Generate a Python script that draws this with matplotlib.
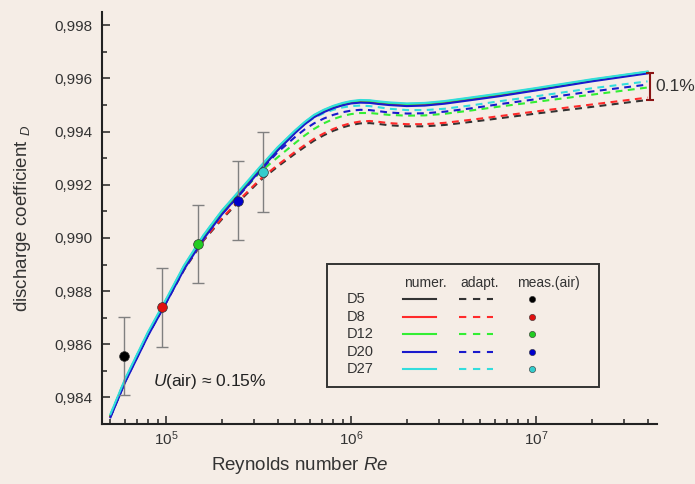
import numpy as np
import matplotlib.pyplot as plt
from matplotlib.patches import Rectangle
from matplotlib.ticker import FuncFormatter, MultipleLocator, NullFormatter, LogLocator

plt.rcParams['font.family'] = ['Liberation Sans', 'DejaVu Sans']
plt.rcParams['mathtext.fontset'] = 'custom'
plt.rcParams['mathtext.rm'] = 'Liberation Sans'
plt.rcParams['mathtext.it'] = 'Liberation Sans:italic'

# %% data
re = np.array([5.0e4, 6.0e4, 8.0e4, 1.0e5, 1.25e5, 1.6e5, 2.0e5, 2.5e5, 3.2e5, 4.0e5,
               5.0e5, 5.6e5, 6.3e5, 7.1e5, 8.0e5, 9.0e5, 1.0e6, 1.12e6, 1.26e6, 1.4e6,
               1.6e6, 2.0e6, 2.5e6, 3.2e6, 4.5e6, 6.3e6, 1.0e7, 2.0e7, 4.0e7])

# numerical solution (solid)
numer_d5  = [0.98329, 0.98462, 0.98640, 0.98762, 0.98889, 0.99005, 0.99095, 0.99172, 0.99258, 0.99334,
             0.99400, 0.99431, 0.99458, 0.99477, 0.99492, 0.99503, 0.99510, 0.99514, 0.99513, 0.99509,
             0.99505, 0.99501, 0.99503, 0.99510, 0.99524, 0.99538, 0.99559, 0.99592, 0.99622]
numer_d8  = [0.98330, 0.98463, 0.98641, 0.98763, 0.98890, 0.99006, 0.99096, 0.99173, 0.99259, 0.99335,
             0.99401, 0.99432, 0.99459, 0.99478, 0.99493, 0.99504, 0.99511, 0.99515, 0.99514, 0.99510,
             0.99506, 0.99502, 0.99504, 0.99511, 0.99525, 0.99539, 0.99560, 0.99593, 0.99623]
numer_d12 = [0.98333, 0.98466, 0.98644, 0.98766, 0.98893, 0.99009, 0.99099, 0.99176, 0.99262, 0.99338,
             0.99404, 0.99434, 0.99461, 0.99480, 0.99495, 0.99506, 0.99513, 0.99517, 0.99516, 0.99512,
             0.99508, 0.99504, 0.99506, 0.99513, 0.99527, 0.99541, 0.99562, 0.99595, 0.99625]
numer_d20 = [0.98325, 0.98457, 0.98634, 0.98756, 0.98882, 0.98998, 0.99088, 0.99165, 0.99252, 0.99329,
             0.99396, 0.99427, 0.99454, 0.99473, 0.99488, 0.99499, 0.99506, 0.99509, 0.99508, 0.99504,
             0.99500, 0.99496, 0.99498, 0.99505, 0.99519, 0.99533, 0.99555, 0.99589, 0.99619]
numer_d27 = [0.98337, 0.98470, 0.98648, 0.98770, 0.98897, 0.99013, 0.99103, 0.99180, 0.99266, 0.99341,
             0.99406, 0.99436, 0.99463, 0.99482, 0.99497, 0.99508, 0.99515, 0.99519, 0.99518, 0.99514,
             0.99510, 0.99506, 0.99508, 0.99515, 0.99529, 0.99543, 0.99564, 0.99597, 0.99626]

# adapted model (dashed)
adapt_d5  = [0.98329, 0.98462, 0.98638, 0.98758, 0.98880, 0.98992, 0.99070, 0.99140, 0.99214, 0.99268,
             0.99318, 0.99342, 0.99366, 0.99386, 0.99403, 0.99416, 0.99425, 0.99431, 0.99432, 0.99429,
             0.99424, 0.99420, 0.99420, 0.99425, 0.99437, 0.99450, 0.99468, 0.99493, 0.99519]
adapt_d8  = [0.98330, 0.98463, 0.98639, 0.98760, 0.98883, 0.98995, 0.99074, 0.99145, 0.99219, 0.99274,
             0.99325, 0.99349, 0.99373, 0.99393, 0.99410, 0.99423, 0.99432, 0.99438, 0.99440, 0.99437,
             0.99432, 0.99428, 0.99428, 0.99433, 0.99445, 0.99458, 0.99476, 0.99502, 0.99528]
adapt_d12 = [0.98330, 0.98463, 0.98641, 0.98763, 0.98890, 0.99005, 0.99093, 0.99163, 0.99246, 0.99303,
             0.99358, 0.99385, 0.99410, 0.99431, 0.99447, 0.99459, 0.99466, 0.99470, 0.99470, 0.99467,
             0.99463, 0.99460, 0.99461, 0.99467, 0.99480, 0.99494, 0.99512, 0.99539, 0.99566]
adapt_d20 = [0.98328, 0.98460, 0.98637, 0.98758, 0.98885, 0.99001, 0.99090, 0.99163, 0.99250, 0.99322,
             0.99381, 0.99408, 0.99431, 0.99449, 0.99463, 0.99473, 0.99479, 0.99482, 0.99481, 0.99477,
             0.99472, 0.99468, 0.99469, 0.99475, 0.99488, 0.99503, 0.99522, 0.99551, 0.99577]
adapt_d27 = [0.98335, 0.98468, 0.98645, 0.98767, 0.98894, 0.99012, 0.99101, 0.99175, 0.99262, 0.99337,
             0.99400, 0.99428, 0.99452, 0.99469, 0.99482, 0.99491, 0.99496, 0.99498, 0.99496, 0.99492,
             0.99486, 0.99481, 0.99481, 0.99486, 0.99499, 0.99514, 0.99533, 0.99563, 0.99589]

# measurements in air, with uncertainty
meas_re  = [5.9e4, 9.5e4, 1.48e5, 2.44e5, 3.33e5]
meas_cd  = [0.98556, 0.98739, 0.98977, 0.99140, 0.99248]
meas_err = [0.00148, 0.00148, 0.00148, 0.00149, 0.00149]

names       = ['D5', 'D8', 'D12', 'D20', 'D27']
line_colors = ['#333333', '#ff2a2a', '#33ee33', '#1a1acc', '#33dddd']
dot_colors  = ['#000000', '#e01010', '#22cc22', '#0000cc', '#33cccc']
numer_all   = [numer_d5, numer_d8, numer_d12, numer_d20, numer_d27]
adapt_all   = [adapt_d5, adapt_d8, adapt_d12, adapt_d20, adapt_d27]

bg = '#f5ede6'
dash = (0, (3.3, 2.6))

# %% figure
fig = plt.figure(figsize=(6.95, 4.84), dpi=100, facecolor=bg)
ax = fig.add_axes([102/695, 1 - 424/484, 555/695, 412/484])
ax.set_facecolor(bg)

for col, cd in zip(line_colors, adapt_all):
    ax.plot(re, cd, color=col, lw=1.5, ls=dash, zorder=2)
for col, cd in zip(line_colors, numer_all):
    ax.plot(re, cd, color=col, lw=1.5, zorder=3)

for x, y, e, col in zip(meas_re, meas_cd, meas_err, dot_colors):
    ax.errorbar(x, y, yerr=e, fmt='none', ecolor='#808080', elinewidth=1,
                capsize=4, capthick=1, zorder=4)
    ax.plot(x, y, 'o', ms=7, mfc=col, mec='#333333', mew=0.5, zorder=5)

# 0.1 % bracket at the right end
top, bot = numer_d5[-1], adapt_d5[-1]
ax.errorbar(4.1e7, (top + bot) / 2, yerr=(top - bot) / 2, fmt='none',
            ecolor='#8b1515', elinewidth=1.5, capsize=3, capthick=1.5, clip_on=False, zorder=6)
ax.annotate('0.1%', xy=(4.1e7, (top + bot) / 2), xytext=(4, 0), textcoords='offset points',
            va='center', ha='left', fontsize=12.5, color='#333333', annotation_clip=False)

ax.text(0.0914, 0.1027, '$U$(air) \u2248 0.15%', transform=ax.transAxes,
        fontsize=12.5, va='center', ha='left', color='#222222')

# axes styling
ax.set_xscale('log')
ax.set_xlim(4.5e4, 4.5e7)
ax.set_ylim(0.983, 0.9985)
ax.yaxis.set_major_locator(MultipleLocator(0.002))
ax.yaxis.set_minor_locator(MultipleLocator(0.001))
ax.yaxis.set_major_formatter(FuncFormatter(lambda v, p: f'{v:.3f}'.replace('.', ',')))
ax.xaxis.set_minor_locator(LogLocator(base=10, subs=np.arange(2, 10)))
ax.xaxis.set_minor_formatter(NullFormatter())

for s in ['top', 'right']:
    ax.spines[s].set_visible(False)
for s in ['left', 'bottom']:
    ax.spines[s].set_linewidth(1.5)
    ax.spines[s].set_color('#222222')

ax.tick_params(which='major', direction='in', length=6, width=1.1, color='#222222',
               labelsize=11, labelcolor='#333333')
ax.tick_params(which='minor', direction='in', length=3.5, width=1.1, color='#222222')
ax.tick_params(axis='y', which='major', pad=6.5)
ax.tick_params(axis='x', which='major', pad=4)

ax.set_xlabel('Reynolds number $Re$', fontsize=13.5, color='#333333')
ax.xaxis.set_label_coords(0.357, -0.075)
ax.set_ylabel('discharge coefficient $_D$', fontsize=13.5, color='#333333')
ax.yaxis.set_label_coords(-0.125, 0.5)

# %% hand-built legend box (figure pixel positions)
def fpx(x, y):
    return x / 695, 1 - y / 484

x0, y0 = fpx(327, 387)
x1, y1 = fpx(599, 264)
fig.add_artist(Rectangle((x0, y0), x1 - x0, y1 - y0, transform=fig.transFigure,
                         facecolor='none', edgecolor='#333333', lw=1.4))

for label, cx in [('numer.', 425), ('adapt.', 480), ('meas.(air)', 548)]:
    fig.text(*fpx(cx, 283), label, ha='center', va='center', fontsize=10, color='#333333')

row_y = [299.3, 316.7, 334.2, 351.7, 369.0]
for name, lc, dc, ry in zip(names, line_colors, dot_colors, row_y):
    fig.text(*fpx(347, ry), name, ha='left', va='center', fontsize=10.5, color='#333333')
    (ax_, ay_), (bx_, by_) = fpx(403, ry), fpx(436, ry)
    fig.add_artist(plt.Line2D([ax_, bx_], [ay_, by_], transform=fig.transFigure, color=lc, lw=1.5))
    (ax_, ay_), (bx_, by_) = fpx(459, ry), fpx(493, ry)
    fig.add_artist(plt.Line2D([ax_, bx_], [ay_, by_], transform=fig.transFigure, color=lc,
                              lw=1.5, ls=(0, (3.5, 3.2))))
    mx, my = fpx(532, ry)
    fig.add_artist(plt.Line2D([mx], [my], transform=fig.transFigure, marker='o', ms=4.5,
                              mfc=dc, mec='#333333', mew=0.4, ls='none'))

fig.savefig('out.png', dpi=100, facecolor=bg)
